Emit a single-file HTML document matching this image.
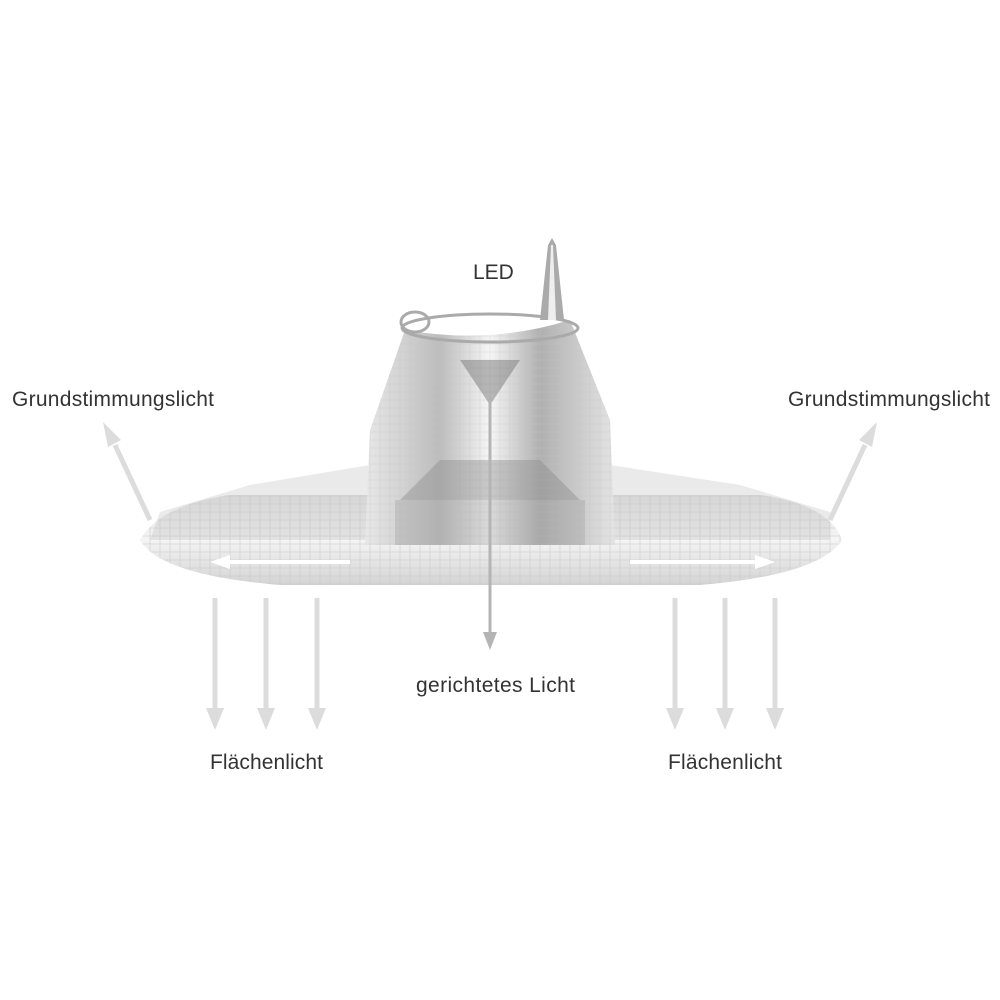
<!DOCTYPE html>
<html><head><meta charset="utf-8"><style>
html,body{margin:0;padding:0;background:#fff;width:1000px;height:1000px;overflow:hidden}
svg{display:block}
text{font-family:"Liberation Sans",sans-serif;font-size:21px;fill:#333}
</style></head><body>
<svg width="1000" height="1000" viewBox="0 0 1000 1000" xmlns="http://www.w3.org/2000/svg">
<defs>
<linearGradient id="disc" x1="0" y1="0" x2="0" y2="1">
<stop offset="0" stop-color="#e4e4e4"/><stop offset="0.5" stop-color="#f4f4f4"/><stop offset="1" stop-color="#d4d4d4"/>
</linearGradient>
<linearGradient id="cone" x1="0" y1="0" x2="1" y2="0">
<stop offset="0" stop-color="#e8e8e8"/><stop offset="0.3" stop-color="#bcbcbc"/><stop offset="0.5" stop-color="#f6f6f6"/><stop offset="0.7" stop-color="#b0b0b0"/><stop offset="1" stop-color="#e4e4e4"/>
</linearGradient>
<pattern id="grid" width="10" height="8" patternUnits="userSpaceOnUse">
<rect width="10" height="8" fill="none" stroke="#c4c4c4" stroke-width="0.8"/>
</pattern>
</defs>
<path d="M140,540 Q160,505 230,495 L760,495 Q830,505 842,540 Q820,575 700,585 L280,585 Q160,575 140,540Z" fill="url(#disc)"/>
<path d="M140,540 Q160,505 230,495 L760,495 Q830,505 842,540 Q820,575 700,585 L280,585 Q160,575 140,540Z" fill="url(#grid)" opacity="0.6"/>
<path d="M160,512 L250,485 L370,465 L370,540 L150,540Z" fill="#bbb" opacity="0.3"/>
<path d="M830,512 L740,485 L610,465 L610,540 L830,540Z" fill="#bbb" opacity="0.3"/>
<path d="M405,330 Q490,345 570,320 L610,420 L615,545 L365,545 L370,430Z" fill="url(#cone)"/>
<path d="M405,330 Q490,345 570,320 L610,420 L615,545 L365,545 L370,430Z" fill="url(#grid)" opacity="0.4"/>
<path d="M460,360 L520,360 L490,405Z" fill="#777" opacity="0.5"/>
<path d="M440,460 L540,460 L580,500 L400,500Z" fill="#888" opacity="0.4"/>
<rect x="395" y="500" width="190" height="45" fill="#999" opacity="0.3"/>
<ellipse cx="490" cy="328" rx="88" ry="14" fill="none" stroke="#aaa" stroke-width="3"/>
<ellipse cx="415" cy="322" rx="14" ry="10" fill="none" stroke="#aaa" stroke-width="3"/>
<path d="M540,320 L548,245 L552,238 L556,245 L564,320Z" fill="#aaa"/>
<path d="M548,320 L551,245 L553,245 L556,320Z" fill="#eee"/>
<g stroke="#dcdcdc" stroke-width="5" fill="#dcdcdc">
<line x1="215" y1="598" x2="215" y2="712"/><path d="M206,708 L224,708 L215,730Z" stroke="none"/>
<line x1="266" y1="598" x2="266" y2="712"/><path d="M257,708 L275,708 L266,730Z" stroke="none"/>
<line x1="317" y1="598" x2="317" y2="712"/><path d="M308,708 L326,708 L317,730Z" stroke="none"/>
<line x1="675" y1="598" x2="675" y2="712"/><path d="M666,708 L684,708 L675,730Z" stroke="none"/>
<line x1="725" y1="598" x2="725" y2="712"/><path d="M716,708 L734,708 L725,730Z" stroke="none"/>
<line x1="775" y1="598" x2="775" y2="712"/><path d="M766,708 L784,708 L775,730Z" stroke="none"/>
<line x1="150" y1="520" x2="115" y2="445"/><path d="M103,422 L121,440 L108,447Z" stroke="none"/>
<line x1="830" y1="520" x2="865" y2="445"/><path d="M877,422 L872,447 L859,440Z" stroke="none"/>
</g>
<g stroke="#fff" stroke-width="4" fill="#fff">
<line x1="230" y1="562" x2="350" y2="562"/><path d="M210,562 L230,555 L230,569Z" stroke="none"/>
<line x1="630" y1="562" x2="755" y2="562"/><path d="M775,562 L755,555 L755,569Z" stroke="none"/>
</g>
<g stroke="#b4b4b4" stroke-width="3" fill="#b4b4b4">
<line x1="490" y1="400" x2="490" y2="635"/><path d="M483,632 L497,632 L490,650Z" stroke="none"/>
</g>
<text x="473" y="279">LED</text>
<text x="12" y="406" textLength="202">Grundstimmungslicht</text>
<text x="788" y="406" textLength="202">Grundstimmungslicht</text>
<text x="416" y="692" textLength="159">gerichtetes Licht</text>
<text x="210" y="769" textLength="113">Flächenlicht</text>
<text x="668" y="769" textLength="114">Flächenlicht</text>
</svg>
</body></html>
